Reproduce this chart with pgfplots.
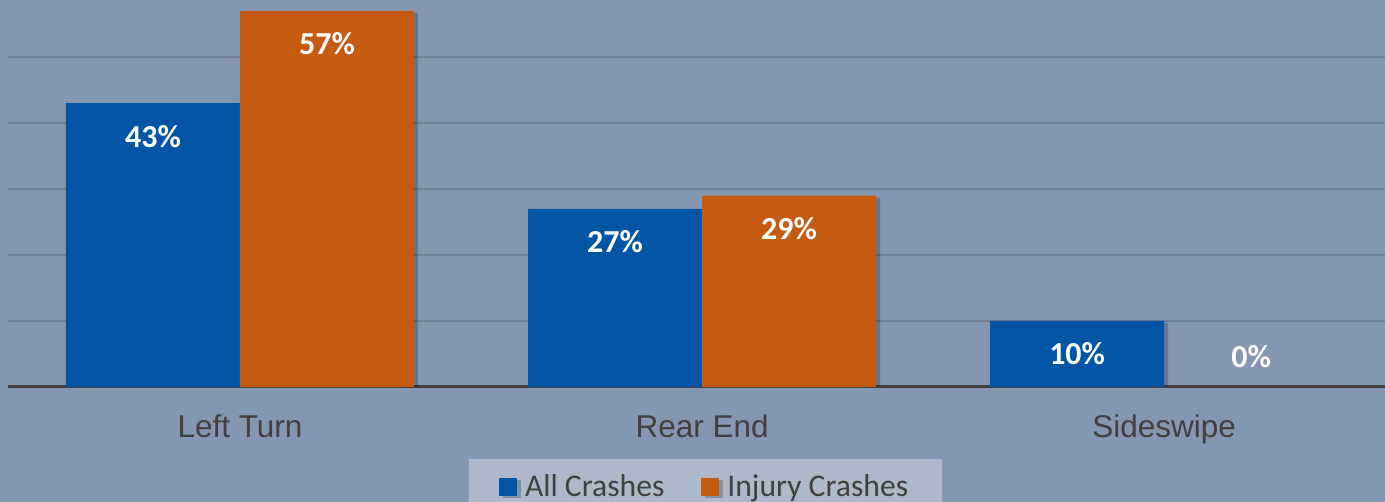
\documentclass[border=0pt]{standalone}
\usepackage{pgfplots}
\pgfplotsset{compat=1.18}
\usepackage{fontspec}
\setmainfont{Liberation Sans}
\newfontfamily\carlito{Carlito}
\definecolor{bgcol}{HTML}{8497B0}
\definecolor{legbg}{HTML}{ADB9CA}
\definecolor{gridcol}{HTML}{6F7E94}
\definecolor{txtgray}{HTML}{404040}
\definecolor{allblue}{HTML}{0255A4}
\definecolor{injorange}{HTML}{C55A11}
\begin{document}
\begin{tikzpicture}
% background of the whole chart (1385 x 502 px at 0.5pt per px)
\fill[bgcol] (0pt,0pt) rectangle (692.5pt,251pt);
\useasboundingbox (0pt,0pt) rectangle (692.5pt,251pt);
\begin{axis}[
    at={(4pt,57.5pt)}, anchor=south west,
    scale only axis, width=688.5pt, height=193.5pt,
    ybar=0pt, bar width=0.3766,
    xmin=-0.502, xmax=2.478,
    ymin=0, ymax=58.64,
    xtick={0,1,2},
    xticklabels={Left Turn, Rear End, Sideswipe},
    xticklabel style={anchor=base, yshift=-25.5pt, text=txtgray,
        font=\fontsize{15.75}{18}\selectfont},
    ytick={10,20,30,40,50}, yticklabels={},
    extra y ticks={0}, extra y tick labels={},
    extra y tick style={grid style={color=txtgray, line width=1.5pt}},
    ymajorgrids, grid style={color=gridcol, line width=0.75pt},
    major tick length=0pt,
    axis line style={draw=none},
    /pgf/number format/assume math mode=true,
    visualization depends on={rawy \as \rawy},
    nodes near coords={\pgfmathprintnumber{\pgfplotspointmeta}\%},
    nodes near coords style={anchor=center, text=white,
        font=\carlito\bfseries\fontsize{16}{19}\selectfont,
        yshift={ifthenelse(\rawy<1,15,-16.5)*1pt}},
    legend columns=2,
    legend style={at={(0.5066,-0.2584)}, anchor=center,
        fill=legbg, draw=none, text=txtgray,
        font=\carlito\fontsize{15.8}{19}\selectfont,
        inner xsep=15pt, inner ysep=6pt,
        /tikz/every even column/.append style={column sep=16.5pt}},
]
\addplot[fill=allblue, draw=none,
    preaction={fill=black, fill opacity=0.22, transform canvas={xshift=2pt, yshift=-1pt}},
    legend image code/.code={\fill[allblue] (0pt,-4.5pt) rectangle (9pt,4.5pt); \path (0pt,0pt) -- (11pt,0pt);}]
    coordinates {(0,43) (1,27) (2,10)};
\addlegendentry{All Crashes}
\addplot[fill=injorange, draw=none,
    preaction={fill=black, fill opacity=0.22, transform canvas={xshift=2pt, yshift=-1pt}},
    legend image code/.code={\fill[injorange] (0pt,-4.5pt) rectangle (9pt,4.5pt); \path (0pt,0pt) -- (11pt,0pt);}]
    coordinates {(0,57) (1,29) (2,0)};
\addlegendentry{Injury Crashes}
\end{axis}
\end{tikzpicture}
\end{document}
